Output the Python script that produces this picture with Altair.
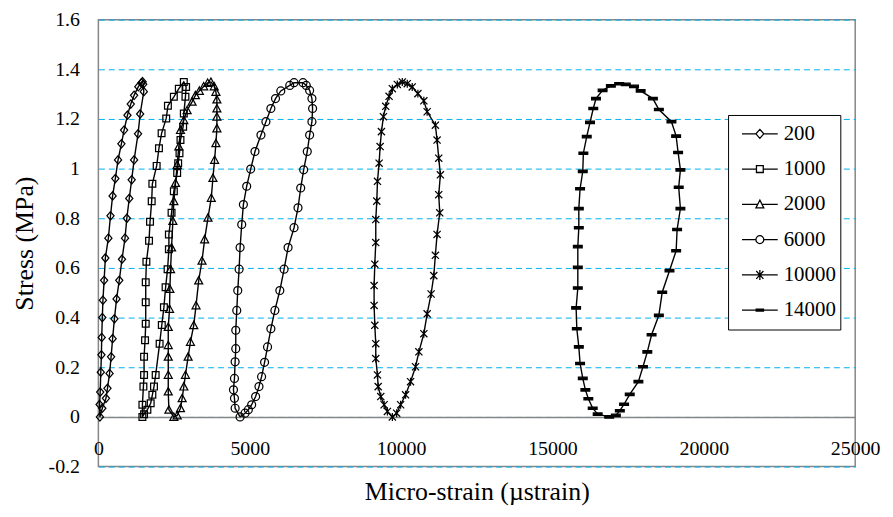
import altair as alt
import pandas as pd

series = ["200", "1000", "2000", "6000", "10000", "14000"]

x_200 = [50, 40, 60, 80, 100, 110, 130, 150, 190, 230, 330, 400, 470, 560, 650, 760, 850, 960, 1070, 1180,
         1320, 1420, 1460, 1480, 1500, 1380, 1310, 1180, 1100, 1020, 940, 880, 780, 690, 600, 530, 470, 420,
         370, 300, 250, 130]
y_200 = [0, 0.05, 0.10, 0.18, 0.25, 0.32, 0.40, 0.47, 0.55, 0.64, 0.72, 0.81, 0.89, 0.96, 1.035, 1.10, 1.155,
         1.215, 1.26, 1.295, 1.33, 1.345, 1.35, 1.34, 1.31, 1.22, 1.14, 1.035, 0.955, 0.88, 0.80, 0.72, 0.635,
         0.55, 0.475, 0.395, 0.315, 0.242, 0.175, 0.115, 0.075, 0.035]

x_1000 = [1454, 1454, 1487, 1509, 1509, 1542, 1564, 1564, 1564, 1586, 1673, 1706, 1761, 1783, 1925, 2001, 2088,
          2241, 2297, 2493, 2657, 2822, 2898, 2876, 2822, 2800, 2712, 2679, 2636, 2603, 2493, 2417, 2329, 2329,
          2286, 2220, 2165, 2095, 2023, 1892, 1837, 1783, 1728, 1619, 1509]
y_1000 = [0, 0.049, 0.122, 0.169, 0.242, 0.309, 0.375, 0.462, 0.542, 0.625, 0.709, 0.786, 0.869, 0.939, 1.011,
          1.082, 1.142, 1.202, 1.253, 1.289, 1.322, 1.349, 1.329, 1.289, 1.222, 1.169, 1.115, 1.062, 1.022, 0.982,
          0.909, 0.822, 0.735, 0.675, 0.595, 0.522, 0.442, 0.37, 0.295, 0.169, 0.122, 0.089, 0.055, 0.029, 0.011]

x_2000 = [2493, 2329, 2308, 2308, 2308, 2308, 2308, 2351, 2362, 2384, 2417, 2461, 2493, 2548, 2603, 2657, 2712,
          2822, 2931, 3095, 3205, 3336, 3478, 3609, 3718, 3827, 3882, 3915, 3915, 3915, 3915, 3882, 3839, 3784,
          3729, 3620, 3510, 3423, 3314, 3226, 3150, 3041, 2964, 2876, 2822, 2767, 2712, 2603]
y_2000 = [0, 0.029, 0.102, 0.169, 0.242, 0.289, 0.362, 0.435, 0.515, 0.595, 0.682, 0.789, 0.869, 0.942, 1.015,
          1.089, 1.155, 1.195, 1.235, 1.269, 1.295, 1.313, 1.331, 1.345, 1.349, 1.331, 1.309, 1.278, 1.242, 1.209,
          1.162, 1.102, 1.035, 0.962, 0.882, 0.802, 0.715, 0.629, 0.549, 0.449, 0.369, 0.302, 0.242, 0.169, 0.122,
          0.075, 0.035, 0.006]

x_6000 = [4681, 4517, 4495, 4462, 4495, 4517, 4538, 4538, 4571, 4604, 4648, 4681, 4735, 4790, 4899, 5031, 5173,
          5370, 5534, 5698, 5851, 6026, 6321, 6463, 6759, 6867, 6978, 7054, 7076, 7054, 6978, 6900, 6781, 6683,
          6594, 6463, 6266, 6135, 5994, 5830, 5698, 5588, 5490, 5391, 5305, 5194, 5063, 4954, 4845]
y_6000 = [0, 0.035, 0.075, 0.109, 0.155, 0.222, 0.275, 0.349, 0.429, 0.509, 0.595, 0.682, 0.775, 0.855, 0.929,
          0.998, 1.069, 1.135, 1.189, 1.242, 1.282, 1.313, 1.335, 1.346, 1.346, 1.335, 1.315, 1.282, 1.242, 1.189,
          1.135, 1.069, 0.995, 0.922, 0.842, 0.762, 0.682, 0.595, 0.509, 0.429, 0.355, 0.282, 0.22, 0.162, 0.122,
          0.082, 0.049, 0.029, 0.015]

x_10000 = [9711, 9547, 9439, 9328, 9242, 9219, 9163, 9163, 9131, 9108, 9108, 9131, 9163, 9163, 9197, 9219, 9274,
           9307, 9350, 9416, 9492, 9603, 9711, 9875, 10039, 10203, 10367, 10554, 10751, 10860, 11132, 11188,
           11243, 11297, 11243, 11276, 11188, 11132, 11079, 10991, 10860, 10751, 10587, 10476, 10312, 10148,
           9984, 9853]
y_10000 = [0, 0.022, 0.049, 0.082, 0.122, 0.169, 0.235, 0.295, 0.369, 0.449, 0.529, 0.615, 0.702, 0.795, 0.869,
           0.949, 1.022, 1.089, 1.149, 1.209, 1.251, 1.291, 1.322, 1.339, 1.349, 1.342, 1.329, 1.302, 1.273, 1.229,
           1.175, 1.115, 1.042, 0.975, 0.895, 0.822, 0.735, 0.651, 0.569, 0.495, 0.415, 0.335, 0.262, 0.202,
           0.142, 0.089, 0.049, 0.015]

x_14000 = [16874, 16493, 16329, 16185, 16087, 16001, 15912, 15870, 15804, 15781, 15837, 15837, 15837, 15870,
           15870, 15912, 16001, 16020, 16132, 16240, 16348, 16437, 16656, 16929, 17202, 17421, 17694, 17913,
           18317, 18514, 18930, 19085, 19150, 19226, 19170, 19226, 19117, 19085, 18865, 18625, 18514, 18274,
           18133, 17989, 17838, 17552, 17366, 17225, 17093]
y_14000 = [0, 0.011, 0.035, 0.073, 0.109, 0.155, 0.215, 0.282, 0.355, 0.439, 0.519, 0.602, 0.686, 0.762, 0.839,
           0.919, 0.989, 1.062, 1.129, 1.186, 1.242, 1.282, 1.315, 1.333, 1.342, 1.339, 1.331, 1.313, 1.282, 1.238,
           1.189, 1.131, 1.065, 0.995, 0.925, 0.839, 0.755, 0.669, 0.589, 0.502, 0.409, 0.331, 0.262, 0.202,
           0.142, 0.091, 0.051, 0.025, 0.006]

x_ticks = [0, 5000, 10000, 15000, 20000, 25000]
y_ticks = [-0.2, 0, 0.2, 0.4, 0.6, 0.8, 1, 1.2, 1.4, 1.6]

xs_all = [x_200, x_1000, x_2000, x_6000, x_10000, x_14000]
ys_all = [y_200, y_1000, y_2000, y_6000, y_10000, y_14000]

pt_rows, ln_rows = [], []
for s, xs, ys in zip(series, xs_all, ys_all):
    for i, (xv, yv) in enumerate(zip(xs, ys)):
        pt_rows.append({"series": s, "x": xv, "y": yv, "idx": i})
        ln_rows.append({"series": s, "x": xv, "y": yv, "idx": i})
    ln_rows.append({"series": s, "x": xs[0], "y": ys[0], "idx": len(xs)})
pts = pd.DataFrame(pt_rows)
lns = pd.DataFrame(ln_rows)

marker_paths = [
    "M0,-1.05L0.9,0L0,1.05L-0.9,0Z",
    "M-0.85,-0.85H0.85V0.85H-0.85Z",
    "M0,-1L1,0.85H-1Z",
    "circle",
    "M-0.9,-0.9L0.9,0.9M-0.9,0.9L0.9,-0.9M0,-1V1",
    "M-1.1,-0.3H1.1V0.3H-1.1Z",
]
legend_paths = [
    "M-1,0H-0.22M0.22,0H1M0,-0.25L0.22,0L0,0.25L-0.22,0Z",
    "M-1,0H-0.19M0.19,0H1M-0.19,-0.19H0.19V0.19H-0.19Z",
    "M-1,0H-0.12M0.12,0H1M0,-0.24L0.22,0.2H-0.22Z",
    "M-1,0H-0.22M0.22,0H1M-0.22,0A0.22,0.22,0,1,1,0.22,0A0.22,0.22,0,1,1,-0.22,0Z",
    "M-1,0H1M-0.2,-0.22L0.2,0.22M-0.2,0.22L0.2,-0.22M0,-0.28V0.28",
    "M-1,0H1M-0.24,-0.06H0.24M-0.24,0.06H0.24",
]

FONT = "Liberation Serif, 'Times New Roman', 'DejaVu Serif', serif"
GRID = "#00B0F0"
PLOT_W, PLOT_H = 762, 450

x_scale = alt.Scale(domain=[0, 25000], nice=False, zero=False)
y_scale = alt.Scale(domain=[-0.2, 1.6], nice=False, zero=False)

x_axis = alt.Axis(values=x_ticks, offset=-50, grid=False, ticks=False, tickSize=0,
                  domainColor="#868686", domainWidth=1.5, labelFontSize=20, labelPadding=22,
                  labelFlush=False, labelOverlap=False, labelColor="black", labelFont=FONT, format="d",
                  title="Micro-strain (µstrain)", titleFontSize=26, titleFontWeight="normal", titleFont=FONT,
                  titleColor="black", titleX=381, titleY=75, titleBaseline="middle", titleAlign="center")
y_axis = alt.Axis(values=y_ticks, grid=True, gridColor=GRID, gridDash=[6, 4], gridWidth=1, gridOpacity=1,
                  ticks=False, tickSize=0, domain=False, labelFontSize=20, labelPadding=19,
                  labelColor="black", labelFont=FONT, labelBaseline="middle",
                  labelExpr="datum.value < 0 ? '-' + format(-datum.value, '~g') : format(datum.value, '~g')",
                  title="Stress (MPa)", titleFontSize=26, titleFontWeight="normal", titleFont=FONT,
                  titleColor="black", titleX=-74, titleY=PLOT_H / 2, titleAngle=-90, titleAlign="center",
                  titleBaseline="middle")

X = alt.X("x:Q", scale=x_scale, axis=x_axis)
Y = alt.Y("y:Q", scale=y_scale, axis=y_axis)

lines = alt.Chart(lns).mark_line(color="black", strokeWidth=1.4).encode(
    x=X, y=Y, detail="series:N", order="idx:Q")

points = alt.Chart(pts).mark_point(filled=False, color="black", size=64, strokeWidth=1.25, opacity=1).encode(
    x=X, y=Y,
    shape=alt.Shape("series:N", scale=alt.Scale(domain=series, range=marker_paths), legend=None),
    fill=alt.condition(alt.datum.series == "14000", alt.value("black"), alt.value("transparent")),
)

legend_layer = alt.Chart(pts).mark_point(filled=False, color="black", opacity=0).encode(
    x=X, y=Y,
    shape=alt.Shape("series:N", scale=alt.Scale(domain=series, range=legend_paths),
                    legend=alt.Legend(title=None, orient="none", legendX=634, legendY=96,
                                      symbolSize=1296, symbolStrokeWidth=1.3, symbolStrokeColor="black",
                                      symbolFillColor="white", symbolOpacity=1, symbolOffset=9,
                                      labelOffset=5, labelFontSize=21, labelFont=FONT, labelColor="black",
                                      padding=4, rowPadding=5.5, clipHeight=30,
                                      strokeColor="black", fillColor="white")),
)

chart = (
    alt.layer(lines, points, legend_layer)
    .resolve_scale(shape="independent")
    .properties(width=PLOT_W, height=PLOT_H,
                padding={"left": 91, "top": 10, "right": 30, "bottom": 40},
                autosize=alt.AutoSizeParams(type="none"), background="white")
    .configure(font=FONT)
    .configure_axisY(gridColor=GRID, gridDash=[6, 4])
    .configure_view(stroke="#868686", strokeWidth=1.5)
)

chart.save("out.html", embed_options={"renderer": "svg", "actions": False})
